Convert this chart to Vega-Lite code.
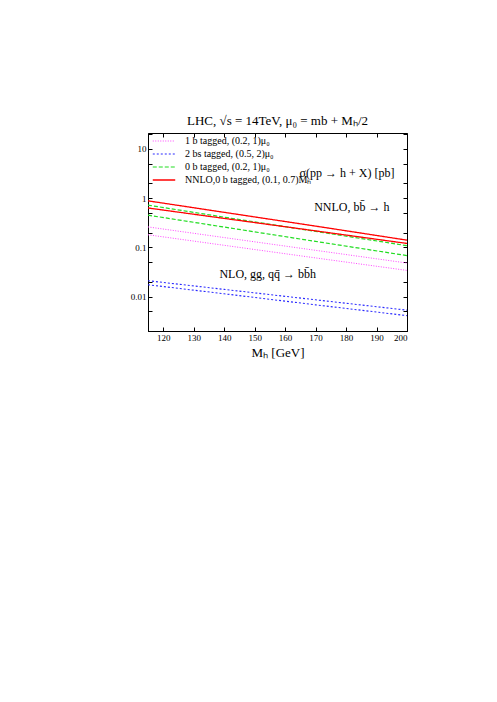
{
  "$schema": "https://vega.github.io/schema/vega-lite/v6.json",
  "width": 259,
  "height": 198,
  "autosize": "none",
  "padding": {"left": 148, "top": 133, "right": 90, "bottom": 371},
  "background": "white",
  "config": {
    "font": "Liberation Serif",
    "view": {"stroke": "black", "strokeWidth": 1},
    "axis": {"grid": false, "domainColor": "black", "tickColor": "black", "labelColor": "black", "titleColor": "black", "labelFont": "Liberation Serif", "titleFont": "Liberation Serif", "titleFontWeight": "normal", "labelFontSize": 9}
  },
  "title": {"text": "LHC, √s = 14TeV, μ₀ = mb + Mₕ/2", "fontSize": 13, "fontWeight": "normal", "font": "Liberation Serif", "offset": 5, "color": "black"},
  "datasets": {
    "series": [
      {"mh": 115, "xs": 0.26, "group": "1 b tagged, (0.2, 1)μ₀", "line": "m1"},
      {"mh": 140, "xs": 0.158, "group": "1 b tagged, (0.2, 1)μ₀", "line": "m1"},
      {"mh": 170, "xs": 0.087, "group": "1 b tagged, (0.2, 1)μ₀", "line": "m1"},
      {"mh": 200, "xs": 0.048, "group": "1 b tagged, (0.2, 1)μ₀", "line": "m1"},
      {"mh": 115, "xs": 0.18, "group": "1 b tagged, (0.2, 1)μ₀", "line": "m2"},
      {"mh": 140, "xs": 0.11, "group": "1 b tagged, (0.2, 1)μ₀", "line": "m2"},
      {"mh": 170, "xs": 0.061, "group": "1 b tagged, (0.2, 1)μ₀", "line": "m2"},
      {"mh": 200, "xs": 0.034, "group": "1 b tagged, (0.2, 1)μ₀", "line": "m2"},
      {"mh": 115, "xs": 0.021, "group": "2 bs tagged, (0.5, 2)μ₀", "line": "b1"},
      {"mh": 140, "xs": 0.014, "group": "2 bs tagged, (0.5, 2)μ₀", "line": "b1"},
      {"mh": 170, "xs": 0.0086, "group": "2 bs tagged, (0.5, 2)μ₀", "line": "b1"},
      {"mh": 200, "xs": 0.0053, "group": "2 bs tagged, (0.5, 2)μ₀", "line": "b1"},
      {"mh": 115, "xs": 0.0174, "group": "2 bs tagged, (0.5, 2)μ₀", "line": "b2"},
      {"mh": 140, "xs": 0.0114, "group": "2 bs tagged, (0.5, 2)μ₀", "line": "b2"},
      {"mh": 170, "xs": 0.0068, "group": "2 bs tagged, (0.5, 2)μ₀", "line": "b2"},
      {"mh": 200, "xs": 0.0041, "group": "2 bs tagged, (0.5, 2)μ₀", "line": "b2"},
      {"mh": 115, "xs": 0.72, "group": "0 b tagged, (0.2, 1)μ₀", "line": "g1"},
      {"mh": 140, "xs": 0.41, "group": "0 b tagged, (0.2, 1)μ₀", "line": "g1"},
      {"mh": 170, "xs": 0.211, "group": "0 b tagged, (0.2, 1)μ₀", "line": "g1"},
      {"mh": 200, "xs": 0.108, "group": "0 b tagged, (0.2, 1)μ₀", "line": "g1"},
      {"mh": 115, "xs": 0.45, "group": "0 b tagged, (0.2, 1)μ₀", "line": "g2"},
      {"mh": 140, "xs": 0.258, "group": "0 b tagged, (0.2, 1)μ₀", "line": "g2"},
      {"mh": 170, "xs": 0.132, "group": "0 b tagged, (0.2, 1)μ₀", "line": "g2"},
      {"mh": 200, "xs": 0.068, "group": "0 b tagged, (0.2, 1)μ₀", "line": "g2"},
      {"mh": 115, "xs": 0.88, "group": "NNLO,0 b tagged, (0.1, 0.7)Mₕ", "line": "r1"},
      {"mh": 140, "xs": 0.514, "group": "NNLO,0 b tagged, (0.1, 0.7)Mₕ", "line": "r1"},
      {"mh": 170, "xs": 0.27, "group": "NNLO,0 b tagged, (0.1, 0.7)Mₕ", "line": "r1"},
      {"mh": 200, "xs": 0.14, "group": "NNLO,0 b tagged, (0.1, 0.7)Mₕ", "line": "r1"},
      {"mh": 115, "xs": 0.63, "group": "NNLO,0 b tagged, (0.1, 0.7)Mₕ", "line": "r2"},
      {"mh": 140, "xs": 0.387, "group": "NNLO,0 b tagged, (0.1, 0.7)Mₕ", "line": "r2"},
      {"mh": 170, "xs": 0.216, "group": "NNLO,0 b tagged, (0.1, 0.7)Mₕ", "line": "r2"},
      {"mh": 200, "xs": 0.12, "group": "NNLO,0 b tagged, (0.1, 0.7)Mₕ", "line": "r2"}
    ],
    "notes": [
      {"mh": 180.3, "xs": 3.26, "label": "σ(pp → h + X) [pb]"},
      {"mh": 181.9, "xs": 0.67, "label": "NNLO, bb̄ → h"},
      {"mh": 154.3, "xs": 0.029, "label": "NLO, gg, qq̄ → bb̄h"}
    ]
  },
  "resolve": {"axis": {"x": "independent", "y": "independent"}},
  "layer": [
    {
      "data": {"name": "series"},
      "mark": {"type": "line", "clip": true},
      "encoding": {
        "x": {"field": "mh", "type": "quantitative", "scale": {"domain": [115, 200], "nice": false, "zero": false},
          "axis": {"orient": "bottom", "values": [120, 130, 140, 150, 160, 170, 180, 190, 200], "tickSize": -4, "labelPadding": 6, "title": "Mₕ [GeV]", "titleFontSize": 13, "titlePadding": 4}},
        "y": {"field": "xs", "type": "quantitative", "scale": {"type": "log", "domain": [0.002, 21], "nice": false},
          "axis": {"orient": "left", "values": [0.002, 0.005, 0.01, 0.02, 0.05, 0.1, 0.2, 0.5, 1, 2, 5, 10, 20], "tickSize": -4, "labelPadding": 6, "format": ".2~f", "labelExpr": "(datum.value == 0.01 || datum.value == 0.1 || datum.value == 1 || datum.value == 10) ? datum.label : ''", "title": null}},
        "color": {"field": "group", "type": "nominal",
          "scale": {"domain": ["1 b tagged, (0.2, 1)μ₀", "2 bs tagged, (0.5, 2)μ₀", "0 b tagged, (0.2, 1)μ₀", "NNLO,0 b tagged, (0.1, 0.7)Mₕ"], "range": ["#ff44ff", "#2b2bff", "#22dd22", "#ff0000"]},
          "legend": {"orient": "none", "legendX": 11, "legendY": 3, "title": null, "labelFont": "Liberation Serif", "labelFontSize": 10, "labelColor": "black", "symbolType": "M-3,0H3", "symbolSize": 56, "symbolStrokeWidth": 1.5, "symbolFillColor": "transparent", "rowPadding": 3, "labelOffset": 16}},
        "strokeDash": {"field": "group", "type": "nominal",
          "scale": {"domain": ["1 b tagged, (0.2, 1)μ₀", "2 bs tagged, (0.5, 2)μ₀", "0 b tagged, (0.2, 1)μ₀", "NNLO,0 b tagged, (0.1, 0.7)Mₕ"], "range": [[1, 1.5], [2, 2], [4, 2], [1, 0]]}},
        "strokeWidth": {"field": "group", "type": "nominal",
          "scale": {"domain": ["1 b tagged, (0.2, 1)μ₀", "2 bs tagged, (0.5, 2)μ₀", "0 b tagged, (0.2, 1)μ₀", "NNLO,0 b tagged, (0.1, 0.7)Mₕ"], "range": [1, 1.3, 1.1, 1.4]}, "legend": null},
        "detail": {"field": "line", "type": "nominal"}
      }
    },
    {
      "data": {"name": "notes"},
      "mark": {"type": "text", "fontSize": 12, "font": "Liberation Serif", "color": "black", "align": "center", "baseline": "middle"},
      "encoding": {
        "x": {"field": "mh", "type": "quantitative", "axis": {"orient": "top", "values": [120, 130, 140, 150, 160, 170, 180, 190, 200], "tickSize": -4, "labels": false, "title": null, "domain": false}},
        "y": {"field": "xs", "type": "quantitative", "axis": {"orient": "right", "values": [0.002, 0.005, 0.01, 0.02, 0.05, 0.1, 0.2, 0.5, 1, 2, 5, 10, 20], "tickSize": -4, "labels": false, "title": null, "domain": false}},
        "text": {"field": "label", "type": "nominal"}
      }
    }
  ]
}
